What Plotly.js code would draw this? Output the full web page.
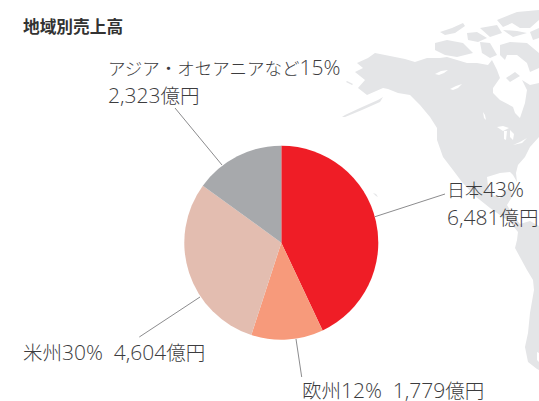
<!DOCTYPE html>
<html><head><meta charset="utf-8">
<script src="https://cdn.plot.ly/plotly-3.0.1.min.js"></script>
<style>html,body{margin:0;padding:0;background:#fff}#c{width:539px;height:401px}</style>
</head><body><div id="c"></div>
<script>
const titleText = "地域別売上高";
const regions = ["日本", "欧州", "米州", "アジア・オセアニアなど"];
const shares = [43, 12, 30, 15];
const amounts = ["6,481", "1,779", "4,604", "2,323"];
const colors = ["#ef1d26", "#f79a7b", "#e3bdb0", "#a7a9ac"];
const unit = "億円";

// Decorative background map outlines (page pixels)
const mainland = [[357,63],[368,58],[375,53],[390,56],[405,59],[415,62],[427,58],[440,58],[447,57],[457,60],[467,63],[477,63],[488,65],[492,60],[497,70],[500,78],[493,88],[493,93],[500,100],[513,107],[515,113],[520,118],[525,103],[527,90],[522,80],[530,85],[539,83],[539,137],[530,147],[525,157],[518,165],[516,173],[517,182],[513,175],[510,172],[500,173],[487,177],[488,186],[492,195],[500,198],[505,190],[511,188],[512,197],[507,205],[513,215],[520,224],[530,221],[539,226],[539,353],[537,352],[537,360],[539,362],[539,370],[537,369],[528,362],[525,347],[528,333],[530,313],[534,290],[533,280],[527,270],[515,248],[517,240],[518,232],[510,222],[500,215],[490,208],[475,196],[462,182],[453,170],[443,157],[437,140],[437,128],[430,117],[420,105],[410,95],[398,93],[388,89],[383,88],[367,95],[358,88],[365,80],[355,72],[363,68]];
const arcticIslands = [
  [[440,32],[452,28],[463,23],[465,26],[455,33],[445,35]],
  [[435,43],[447,40],[463,43],[473,53],[457,57],[445,55],[435,50]],
  [[467,33],[477,32],[487,38],[478,42],[468,40]],
  [[480,28],[497,25],[502,33],[490,37]],
  [[497,20],[517,12],[539,10],[539,20],[530,28],[520,28],[512,23],[503,27]],
  [[503,30],[517,31],[527,33],[513,37]],
  [[530,32],[539,28],[539,38],[533,40]],
  [[500,45],[510,42],[527,43],[539,53],[539,68],[530,72],[527,63],[517,55],[507,55],[505,60],[500,55]],
  [[480,42],[490,43],[497,55],[490,58],[482,53]],
  [[506,78],[515,72],[520,76],[510,82]]
];
const aleutians = [[383,97],[378,100],[360,108],[345,115],[342,117],[345,117],[362,110],[380,102]];
const islet = [[347,81],[353,84],[352,85],[346,82]];
const hawaii = [[373,193],[376,194],[378,197],[376,196]];
const lakes = [
  [[435,74],[441,71],[448,70],[444,73],[439,75]],
  [[450,89],[456,86],[462,84],[458,88],[453,90]],
  [[483,112],[485,115],[486,120],[484,118]],
  [[497,127],[503,126],[509,128],[503,131]],
  [[504,131],[507,131],[506,140],[504,139]],
  [[510,130],[514,134],[513,140],[510,137]],
  [[513,145],[520,142],[527,138],[522,143]]
];

const toPath = pts => pts.map((p,i)=>(i?"L":"M")+(p[0]/539).toFixed(4)+" "+(1-p[1]/401).toFixed(4)).join(" ")+" Z";
const landShape = pts => ({type:"path",xref:"paper",yref:"paper",layer:"below",path:toPath(pts),fillcolor:"#e4e5e7",line:{width:0}});
const lakeShape = pts => ({type:"path",xref:"paper",yref:"paper",layer:"below",path:toPath(pts),fillcolor:"#ffffff",line:{width:0}});

// Leader lines
const leaderLines = [[[375,216.7],[445,194]],[[296,339],[301.7,377]],[[200,297],[139.3,337]],[[222,165],[175,108]]];
const lineShape = s => ({type:"line",xref:"paper",yref:"paper",layer:"above",x0:s[0][0]/539,y0:1-s[0][1]/401,x1:s[1][0]/539,y1:1-s[1][1]/401,line:{color:"#8c8c8e",width:1}});

const cjk = '"Noto Sans CJK JP","Noto Sans",sans-serif';
const font = {family:'"Open Sans",'+cjk,size:21,color:"#3c3c3e",weight:300};
const jp = (s,size) => '<span style="font-size:'+(size||19.5)+'px">'+s+'</span>';
const label = (text,x,y) => ({text,x:x/539,y:1-y/401,xref:"paper",yref:"paper",xanchor:"left",yanchor:"middle",align:"left",showarrow:false,font});
const annotations = [
  Object.assign(label(titleText,21,26),{font:{family:cjk,size:16.7,color:"#333333",weight:700}}),
  label(jp(regions[0],18)+shares[0]+"%",445,189),
  label(amounts[0]+jp(unit),445,217),
  label(jp(regions[1])+shares[1]+"%  "+amounts[1]+jp(unit),300,390),
  label(jp(regions[2])+shares[2]+"%  "+amounts[2]+jp(unit),21,352),
  label(jp(regions[3],17.5)+shares[3]+"%",106,67),
  label(amounts[3]+jp(unit),106,95)
];

const cx=281.3, cy=242.7, r=97;
Plotly.newPlot("c",[{
  type:"pie",labels:regions,values:shares,sort:false,direction:"clockwise",rotation:0,
  marker:{colors,line:{width:0}},textinfo:"none",hoverinfo:"skip",showlegend:false,
  domain:{x:[(cx-r)/539,(cx+r)/539],y:[1-(cy+r)/401,1-(cy-r)/401]}
}],{
  width:539,height:401,margin:{l:0,r:0,t:0,b:0},paper_bgcolor:"#fff",showlegend:false,
  annotations,
  shapes:[mainland,...arcticIslands,aleutians,islet,hawaii].map(landShape)
    .concat(lakes.map(lakeShape)).concat(leaderLines.map(lineShape))
},{displayModeBar:false,staticPlot:true});
</script></body></html>
